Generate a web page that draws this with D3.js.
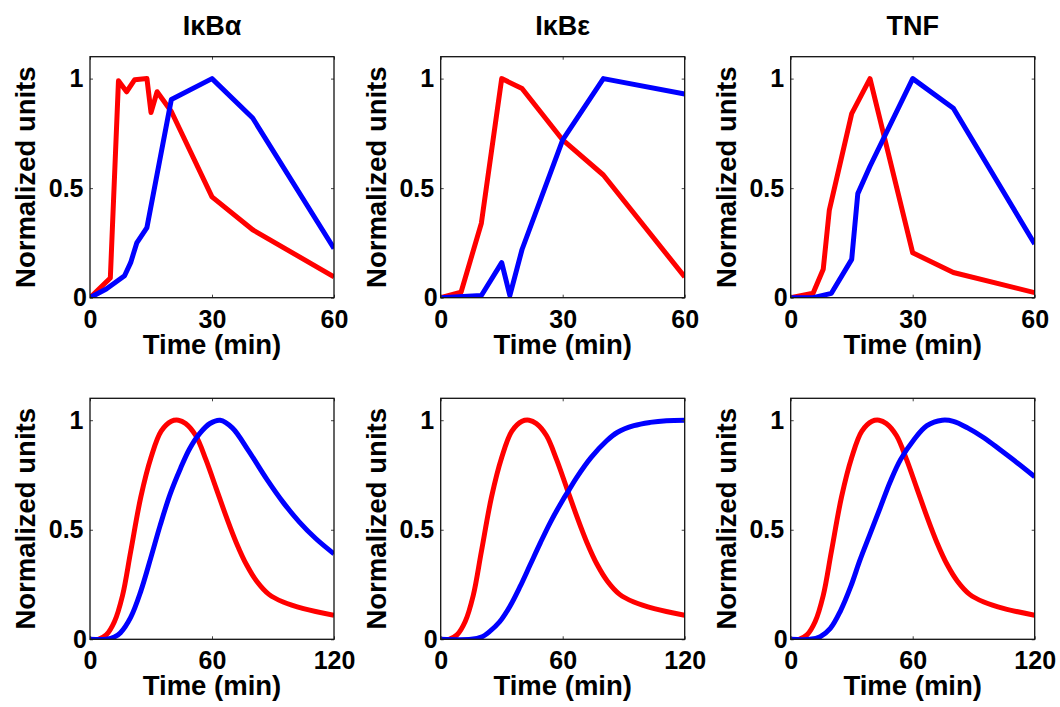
<!DOCTYPE html>
<html>
<head>
<meta charset="utf-8">
<script src="https://cdn.jsdelivr.net/npm/d3@7"></script>
<style>
	body { margin: 0; background: #fff; }
	text { font-family: "Liberation Sans", Arial, Helvetica, sans-serif; font-weight: bold; fill: #000; }
</style>
</head>
<body>
<svg id="chart" width="1060" height="707"></svg>
<script>

	/***************************************************************************
	 *
	 * DATA
	 *
	 **************************************************************************/

	var titles = ["I\u03baB\u03b1", "I\u03baB\u03b5", "TNF"];

	var xTicksTop = [0, 30, 60];
	var xTicksBottom = [0, 60, 120];
	var yTicks = [0, 0.5, 1];

	// top row : measured time courses, 0-60 min
	var ikbaRedTime  = [0, 5, 7, 9, 11, 14, 15, 16.5, 20, 30, 40, 60];
	var ikbaRed      = [0, 0.09, 0.99, 0.94, 0.995, 1.0, 0.845, 0.94, 0.85, 0.46, 0.31, 0.095];
	var ikbaBlueTime = [0, 4, 8.5, 10, 11.5, 14, 20, 30, 40, 60];
	var ikbaBlue     = [0, 0.04, 0.1, 0.16, 0.25, 0.32, 0.905, 1.0, 0.82, 0.225];

	var ikbeRedTime  = [0, 5, 10, 15, 20, 30, 40, 60];
	var ikbeRed      = [0, 0.025, 0.34, 1.0, 0.955, 0.72, 0.56, 0.095];
	var ikbeBlueTime = [0, 10, 15, 17, 20, 30, 40, 60];
	var ikbeBlue     = [0, 0.01, 0.16, 0.01, 0.22, 0.72, 1.0, 0.93];

	var tnfRedTime  = [0, 5.5, 8, 9.5, 15, 19.5, 30, 40, 60];
	var tnfRed      = [0, 0.02, 0.13, 0.4, 0.84, 1.0, 0.205, 0.115, 0.023];
	var tnfBlueTime = [0, 5.5, 10, 15, 16.5, 19.5, 30, 40, 60];
	var tnfBlue     = [0, 0, 0.02, 0.175, 0.475, 0.6, 1.0, 0.865, 0.245];

	// bottom row : model curves, 0-120 min (same red input in all three)
	var modelRedTime = [0, 4, 8, 12, 16, 20, 25, 30, 35, 40, 43.5, 47, 52, 57, 62, 67, 72, 77, 82, 88, 95, 105, 120];
	var modelRed     = [0, 0, 0.02, 0.08, 0.2, 0.4, 0.65, 0.83, 0.95, 0.995, 1.0, 0.985, 0.93, 0.82, 0.69, 0.56, 0.44, 0.34, 0.265, 0.205, 0.17, 0.14, 0.11];

	var ikbaModelTime = [0, 8, 12, 15, 20, 25, 30, 34.5, 39.5, 44.5, 49, 54, 59, 64, 70, 78, 87, 95, 103, 111, 120];
	var ikbaModel     = [0, 0, 0.01, 0.03, 0.1, 0.22, 0.375, 0.52, 0.665, 0.78, 0.87, 0.94, 0.985, 1.0, 0.965, 0.86, 0.73, 0.625, 0.535, 0.46, 0.39];

	var ikbeModelTime = [0, 15, 20, 24, 29, 34, 39, 44, 49, 54, 60, 63, 67, 74, 81.5, 87, 95, 103, 111, 120];
	var ikbeModel     = [0, 0, 0.01, 0.035, 0.08, 0.15, 0.24, 0.34, 0.44, 0.535, 0.635, 0.68, 0.74, 0.83, 0.905, 0.945, 0.975, 0.99, 0.998, 1.0];

	var tnfModelTime = [0, 9.5, 14.5, 19.5, 24.5, 29.5, 34, 39, 44, 49, 54, 60.5, 67, 74.5, 80, 87, 95, 103, 111.5, 120];
	var tnfModel     = [0, 0, 0.012, 0.05, 0.13, 0.24, 0.36, 0.48, 0.6, 0.72, 0.82, 0.91, 0.975, 1.0, 0.995, 0.965, 0.92, 0.865, 0.805, 0.742];

	/***************************************************************************
	 *
	 * LAYOUT
	 *
	 **************************************************************************/

	var colLeft = [90, 440.7, 790.7];
	var rowTop = [56.7, 398.3];
	var plotW = 244;
	var plotH = 241;

	var RED = "#ff0000";
	var BLUE = "#0000ff";

	var panels = [
		{ col: 0, row: 0, xDomain: [0, 60], xTicks: xTicksTop, smooth: false,
			series: [{ t: ikbaRedTime, v: ikbaRed, color: RED }, { t: ikbaBlueTime, v: ikbaBlue, color: BLUE }] },
		{ col: 1, row: 0, xDomain: [0, 60], xTicks: xTicksTop, smooth: false,
			series: [{ t: ikbeRedTime, v: ikbeRed, color: RED }, { t: ikbeBlueTime, v: ikbeBlue, color: BLUE }] },
		{ col: 2, row: 0, xDomain: [0, 60], xTicks: xTicksTop, smooth: false,
			series: [{ t: tnfRedTime, v: tnfRed, color: RED }, { t: tnfBlueTime, v: tnfBlue, color: BLUE }] },
		{ col: 0, row: 1, xDomain: [0, 120], xTicks: xTicksBottom, smooth: true,
			series: [{ t: modelRedTime, v: modelRed, color: RED }, { t: ikbaModelTime, v: ikbaModel, color: BLUE }] },
		{ col: 1, row: 1, xDomain: [0, 120], xTicks: xTicksBottom, smooth: true,
			series: [{ t: modelRedTime, v: modelRed, color: RED }, { t: ikbeModelTime, v: ikbeModel, color: BLUE }] },
		{ col: 2, row: 1, xDomain: [0, 120], xTicks: xTicksBottom, smooth: true,
			series: [{ t: modelRedTime, v: modelRed, color: RED }, { t: tnfModelTime, v: tnfModel, color: BLUE }] }
	];

	var svg = d3.select("#chart");

	/***************************************************************************
	 *
	 * DRAWERS
	 *
	 **************************************************************************/

	function drawPanel(p, i)
	{
		var left = colLeft[p.col];
		var top = rowTop[p.row];

		var g = svg.append("g")
			.attr("transform", "translate(" + left + "," + top + ")");

		var xScale = d3.scaleLinear().domain(p.xDomain).range([0, plotW]);
		var yScale = d3.scaleLinear().domain([0, 1.1]).range([plotH, 0]);

		g.append("clipPath")
			.attr("id", "clip" + i)
			.append("rect")
				.attr("width", plotW)
				.attr("height", plotH);

		var line = d3.line()
			.x(function(d) { return xScale(d[0]); })
			.y(function(d) { return yScale(d[1]); })
			.curve(p.smooth ? d3.curveCatmullRom.alpha(0.5) : d3.curveLinear);

		p.series.forEach(function(s)
		{
			g.append("path")
				.datum(d3.zip(s.t, s.v))
				.attr("clip-path", "url(#clip" + i + ")")
				.attr("fill", "none")
				.attr("stroke", s.color)
				.attr("stroke-width", 5)
				.attr("stroke-linejoin", "round")
				.attr("d", line);
		});

		// bottom axis with labels, inward ticks
		var xAxis = g.append("g")
			.attr("transform", "translate(0," + plotH + ")")
			.call(d3.axisBottom(xScale).tickValues(p.xTicks).tickSizeInner(-3).tickSizeOuter(0).tickPadding(12.3).tickFormat(d3.format("d")));

		// left axis
		var yAxis = g.append("g")
			.call(d3.axisLeft(yScale).tickValues(yTicks).tickSizeInner(-3).tickSizeOuter(0).tickPadding(6.5).tickFormat(function(d) { return String(d); }));

		// mirrored ticks, no labels
		var xAxisTop = g.append("g")
			.call(d3.axisTop(xScale).tickValues(p.xTicks).tickSizeInner(-3).tickSizeOuter(0).tickFormat(""));
		var yAxisRight = g.append("g")
			.attr("transform", "translate(" + plotW + ",0)")
			.call(d3.axisRight(yScale).tickValues(yTicks).tickSizeInner(-3).tickSizeOuter(0).tickFormat(""));

		[xAxis, yAxis, xAxisTop, yAxisRight].forEach(function(a)
		{
			a.select(".domain").remove();
			a.attr("font-size", 25).attr("color", "#444");
			a.selectAll("line").attr("stroke-width", 1);
		});

		yAxis.selectAll(".tick text").filter(function(d) { return d === 0; }).attr("dx", 3.5);

		// frame
		g.append("rect")
			.attr("width", plotW)
			.attr("height", plotH)
			.attr("fill", "none")
			.attr("stroke", "#111")
			.attr("stroke-width", 1.3);

		g.append("text")
			.attr("x", plotW / 2)
			.attr("y", plotH + 56)
			.attr("text-anchor", "middle")
			.attr("font-size", 27.5)
			.text("Time (min)");

		g.append("text")
			.attr("transform", "translate(-55," + (plotH / 2) + ") rotate(-90)")
			.attr("text-anchor", "middle")
			.attr("font-size", 27.5)
			.text("Normalized units");

		if(p.row === 0)
		{
			g.append("text")
				.attr("x", plotW / 2)
				.attr("y", 34.5 - top)
				.attr("text-anchor", "middle")
				.attr("font-size", 27)
				.text(titles[p.col]);
		}
	}

	panels.forEach(drawPanel);

</script>
</body>
</html>
